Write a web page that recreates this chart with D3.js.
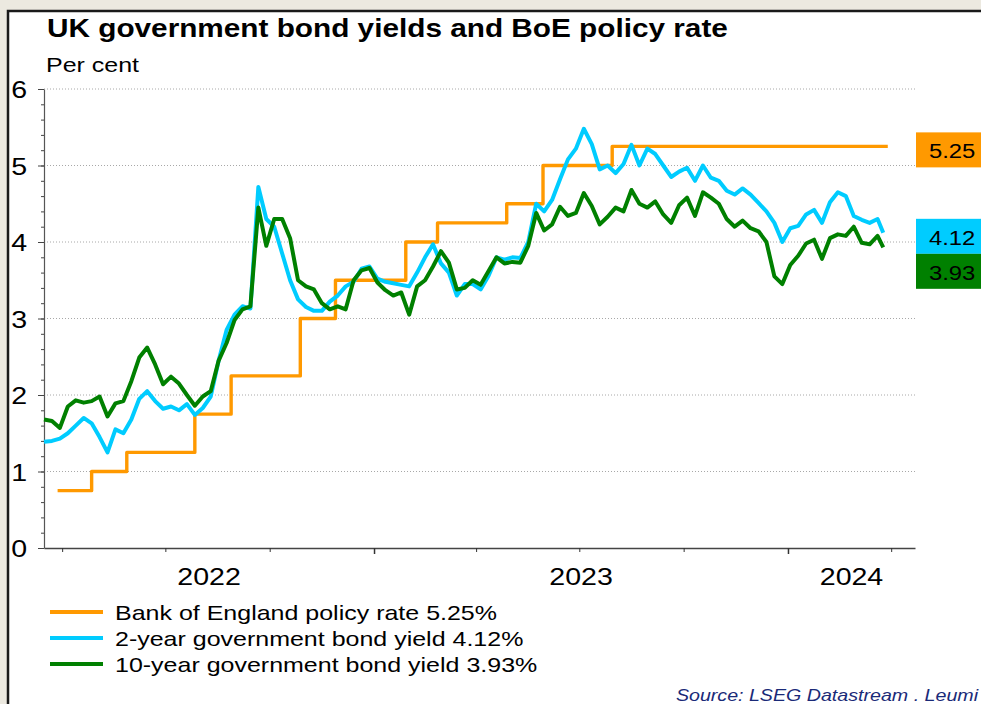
<!DOCTYPE html>
<html>
<head>
<meta charset="utf-8">
<script src="https://cdn.jsdelivr.net/npm/d3@7/dist/d3.min.js"></script>
<style>
html, body { margin: 0; padding: 0; background: #ECE9E0; }
svg { display: block; }
text { font-family: "Liberation Sans", Arial, sans-serif; }
</style>
</head>
<body>
<svg id="chart" width="981" height="704"></svg>
<script>
// weekly closes, first one on yieldStart, last extra point on yieldEnd
const yieldStart = "2022-03-16"
const yieldEnd = "2024-03-25"

const twoYear = [
    1.39, 1.40, 1.43, 1.50, 1.60, 1.70, 1.63, 1.45, 1.25, 1.55,
    1.50, 1.68, 1.95, 2.05, 1.92, 1.82, 1.85, 1.80, 1.88, 1.74,
    1.83, 1.98, 2.45, 2.85, 3.05, 3.16, 3.13, 4.72, 4.30, 4.20,
    3.85, 3.50, 3.25, 3.15, 3.10, 3.10, 3.22, 3.30, 3.42, 3.48,
    3.65, 3.68, 3.52, 3.48, 3.46, 3.44, 3.42, 3.60, 3.80, 3.97,
    3.72, 3.60, 3.30, 3.45, 3.45, 3.38, 3.56, 3.80, 3.77, 3.80,
    3.79, 4.00, 4.50, 4.40, 4.55, 4.82, 5.08, 5.22, 5.48, 5.28,
    4.95, 5.00, 4.90, 5.02, 5.27, 5.00, 5.22, 5.15, 5.00, 4.85,
    4.92, 4.97, 4.80, 5.00, 4.84, 4.80, 4.67, 4.62, 4.70, 4.62,
    4.51, 4.40, 4.25, 4.00, 4.18, 4.21, 4.36, 4.42, 4.25, 4.52,
    4.65, 4.60, 4.34, 4.29, 4.25, 4.30, 4.12
]

const tenYear = [
    1.68, 1.66, 1.57, 1.85, 1.93, 1.90, 1.92, 1.98, 1.72, 1.89,
    1.92, 2.18, 2.49, 2.62, 2.40, 2.14, 2.24, 2.15, 2.00, 1.86,
    1.98, 2.05, 2.45, 2.68, 2.98, 3.12, 3.16, 4.45, 3.95, 4.30,
    4.30, 4.05, 3.50, 3.42, 3.38, 3.20, 3.12, 3.16, 3.12, 3.50,
    3.63, 3.66, 3.47, 3.37, 3.30, 3.34, 3.05, 3.42, 3.50, 3.68,
    3.88, 3.73, 3.38, 3.40, 3.50, 3.44, 3.62, 3.80, 3.72, 3.74,
    3.73, 3.95, 4.38, 4.15, 4.23, 4.46, 4.34, 4.38, 4.64, 4.47,
    4.23, 4.33, 4.45, 4.40, 4.68, 4.50, 4.45, 4.53, 4.36, 4.25,
    4.48, 4.58, 4.34, 4.65, 4.58, 4.50, 4.30, 4.20, 4.28, 4.18,
    4.14, 4.00, 3.55, 3.45, 3.70, 3.82, 3.98, 4.03, 3.78, 4.05,
    4.10, 4.08, 4.20, 3.99, 3.97, 4.08, 3.93
]

const boeDates = ["2022-03-28", "2022-04-27", "2022-05-28", "2022-07-27", "2022-08-28",
    "2022-10-28", "2022-11-28", "2023-01-29", "2023-02-26", "2023-04-28",
    "2023-05-30", "2023-07-30", "2024-03-29"]
const boeRates = [0.75, 1.00, 1.25, 1.75, 2.25, 3.00, 3.50, 4.00, 4.25, 4.50, 5.00, 5.25, 5.25]

const yTicks = [0, 1, 2, 3, 4, 5, 6]
const yearLabels = ["2022", "2023", "2024"]
const seriesNames = ["Bank of England policy rate 5.25%",
    "2-year government bond yield 4.12%",
    "10-year government bond yield 3.93%"]
const lastValues = ["5.25", "4.12", "3.93"]
const colors = ["#FF9900", "#00CCFF", "#008000"]

const parse = d3.timeParse("%Y-%m-%d")
const stretch = 1.19   // the original text is a bit wider than Arial

const svg = d3.select("#chart")

// white panel with dark frame
svg.append("rect")
    .attr("x", 8).attr("y", 11).attr("width", 1100).attr("height", 800)
    .attr("fill", "#fff").attr("stroke", "#1a1a1a").attr("stroke-width", 2.5)

function label(g, x, y, txt, size, opts) {
    opts = opts || {}
    return g.append("text")
        .attr("transform", `translate(${x},${y}) scale(${stretch},1)`)
        .attr("font-size", size)
        .attr("font-weight", opts.weight || null)
        .attr("font-style", opts.style || null)
        .attr("text-anchor", opts.anchor || null)
        .attr("fill", opts.fill || "#000")
        .text(txt)
}

label(svg, 47, 37, "UK government bond yields and BoE policy rate", 25, { weight: "bold" })
label(svg, 46, 72, "Per cent", 21)

const x = d3.scaleTime()
    .domain([parse("2022-03-16"), parse("2024-04-22")])
    .range([44, 915])
const y = d3.scaleLinear().domain([0, 6]).range([548, 89])

// gridlines
svg.append("g")
    .selectAll("line")
    .data(yTicks.filter(d => d > 0))
    .join("line")
    .attr("x1", 44).attr("x2", 916)
    .attr("y1", d => y(d)).attr("y2", d => y(d))
    .attr("stroke", "#a8a8a8").attr("stroke-dasharray", "1,2")

// y axis, minor then major ticks
svg.append("g")
    .attr("transform", "translate(44,0)")
    .call(d3.axisLeft(y).tickValues(d3.range(0, 6.01, 0.2)).tickSize(3).tickFormat(""))
    .call(g => g.select(".domain").remove())
    .selectAll("line").attr("stroke", "#444")

const yAxis = svg.append("g")
    .attr("transform", "translate(44,0)")
    .call(d3.axisLeft(y).tickValues(yTicks).tickFormat(d3.format("d"))
        .tickSize(6).tickSizeOuter(0))
yAxis.select(".domain").attr("stroke", "#555").attr("stroke-width", 1.2)
yAxis.selectAll("line").attr("stroke", "#444")
yAxis.selectAll("text")
    .attr("font-size", 24).attr("font-family", "Liberation Sans, Arial, sans-serif")
    .attr("fill", "#000").attr("dy", "0.36em").attr("x", -17 / stretch)
    .attr("transform", `scale(${stretch},1)`)

// x axis with quarterly ticks, longer at year starts
const xAxis = svg.append("g")
    .attr("transform", "translate(0,548)")
    .call(d3.axisBottom(x).ticks(d3.timeMonth.every(3)).tickSize(4).tickSizeOuter(0).tickFormat(""))
xAxis.select(".domain").attr("stroke", "#444").attr("stroke-width", 1.5)
xAxis.selectAll(".tick line")
    .attr("stroke", "#333")
    .attr("y2", d => d.getMonth() === 0 ? 6 : 4)
    .attr("stroke-width", d => d.getMonth() === 0 ? 1.5 : 1)

// year labels centred on the visible part of each year
yearLabels.forEach(yr => {
    const a = Math.max(x(parse(yr + "-01-01")), x.range()[0])
    const b = Math.min(x(parse((+yr + 1) + "-01-01")), x.range()[1])
    label(svg, (a + b) / 2, 585, yr, 24, { anchor: "middle" })
})

// series
const t0 = parse(yieldStart)
function yieldPoints(vals) {
    return vals.map((v, i) => ({
        date: i === vals.length - 1 ? parse(yieldEnd) : d3.timeDay.offset(t0, 7 * i),
        value: v
    }))
}
const boe = boeDates.map((d, i) => ({ date: parse(d), value: boeRates[i] }))

const line = d3.line().x(d => x(d.date)).y(d => y(d.value))
const stepLine = d3.line().curve(d3.curveStepAfter).x(d => x(d.date)).y(d => y(d.value))

const series = [
    { data: boe, gen: stepLine, width: 3.4 },
    { data: yieldPoints(twoYear), gen: line, width: 4 },
    { data: yieldPoints(tenYear), gen: line, width: 4 }
]

svg.append("g")
    .selectAll("path")
    .data(series)
    .join("path")
    .attr("d", d => d.gen(d.data))
    .attr("fill", "none")
    .attr("stroke", (d, i) => colors[i])
    .attr("stroke-width", d => d.width)
    .attr("stroke-linejoin", "round")

// end-value boxes on the right
const boxH = 35
let prevBottom = -Infinity
const endVals = lastValues.map(Number)
endVals.forEach((v, i) => {
    let top = y(v) - 14
    if (top < prevBottom) top = prevBottom
    prevBottom = top + boxH
    svg.append("rect")
        .attr("x", 916).attr("y", top).attr("width", 100).attr("height", boxH)
        .attr("fill", colors[i])
    label(svg, 929, top + 26, lastValues[i], 20)
})

// legend
const legend = svg.append("g")
seriesNames.forEach((name, i) => {
    const ly = 612 + i * 26
    legend.append("line")
        .attr("x1", 50).attr("x2", 103).attr("y1", ly).attr("y2", ly)
        .attr("stroke", colors[i]).attr("stroke-width", 4)
    label(legend, 115, ly + 7.5, name, 21)
})

label(svg, 978, 701, "Source: LSEG Datastream . Leumi", 16.5,
    { anchor: "end", style: "italic", fill: "#1A2A78" })
</script>
</body>
</html>
